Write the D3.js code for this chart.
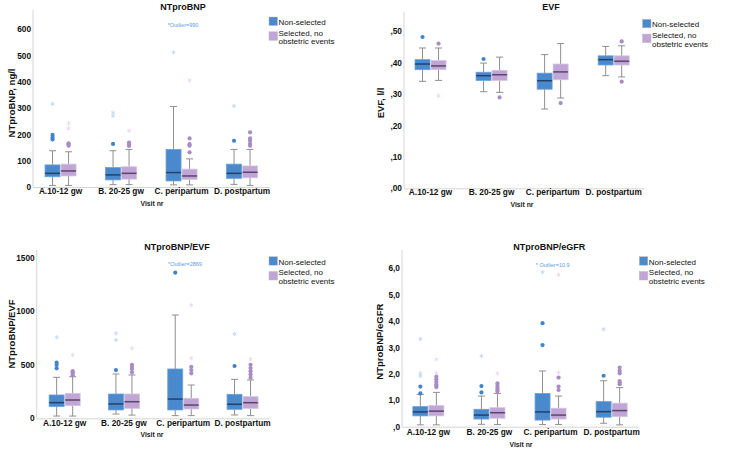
<!DOCTYPE html>
<html><head><meta charset="utf-8">
<script src="https://cdn.jsdelivr.net/npm/d3@7"></script>
<style>
html,body{margin:0;padding:0;background:#fff;}
svg{display:block;font-family:Arial,"Liberation Sans",sans-serif;}
</style></head>
<body>
<svg id="chart" width="732" height="451"></svg>
<script>
// ---------- DATA ----------
const categories = ["A.10-12 gw", "B. 20-25 gw", "C. peripartum", "D. postpartum"];
const seriesNames = ["Non-selected", "Selected, no obstetric events"];
const legendLines = [["Non-selected"], ["Selected, no", "obstetric events"]];
const xTitle = "Visit nr";

// box stats per category: [whiskerLow, q1, median, q3, whiskerHigh]
// NTproBNP
const ntTitle = "NTproBNP", ntYTitle = "NTproBNP, ng/l", ntNote = "*Outlier=990";
const ntTicks = [0, 100, 200, 300, 400, 500, 600];
const ntTickLabels = ["0", "100", "200", "300", "400", "500", "600"];
const ntBoxNon = [[6, 39, 52, 84, 138], [9, 27, 46, 74, 138], [8, 23, 55, 143, 306], [10, 33, 52, 87, 143]];
const ntBoxSel = [[6, 42, 61, 87, 134], [9, 30, 52, 77, 143], [8, 29, 42, 68, 107], [6, 35, 56, 80, 143]];
const ntOutNon = [[181, 188, 198], [164], [], [176]];
const ntOutSel = [[157, 162, 166], [156, 162, 169], [132, 157, 163, 185], [157, 164, 176, 185, 208]];
const ntExtNon = [[316], [270, 283], [512], [308]];
const ntExtSel = [[223, 242], [214], [406], []];

// EVF
const evfTitle = "EVF", evfYTitle = "EVF, l/l", evfNote = "";
const evfTicks = [0, 0.1, 0.2, 0.3, 0.4, 0.5];
const evfTickLabels = [",00", ",10", ",20", ",30", ",40", ",50"];
const evfBoxNon = [[0.340, 0.377, 0.395, 0.409, 0.446], [0.307, 0.343, 0.358, 0.369, 0.398], [0.252, 0.315, 0.342, 0.366, 0.425], [0.358, 0.392, 0.409, 0.421, 0.451]];
const evfBoxSel = [[0.343, 0.377, 0.389, 0.406, 0.446], [0.305, 0.343, 0.361, 0.375, 0.417], [0.287, 0.345, 0.370, 0.395, 0.460], [0.354, 0.392, 0.404, 0.421, 0.453]];
const evfOutNon = [[0.481], [0.411], [], []];
const evfOutSel = [[0.460], [0.289], [0.271], [0.467, 0.339]];
const evfExtNon = [[], [], [], []];
const evfExtSel = [[0.294], [], [], []];

// NTproBNP/EVF
const reTitle = "NTproBNP/EVF", reYTitle = "NTproBNP/EVF", reNote = "*Outlier=2869";
const reTicks = [0, 500, 1000, 1500];
const reTickLabels = ["0", "500", "1000", "1500"];
const reBoxNon = [[21, 109, 146, 218, 383], [40, 78, 134, 227, 414], [25, 78, 180, 461, 965], [31, 84, 131, 224, 364]];
const reBoxSel = [[21, 118, 171, 233, 389], [30, 93, 155, 227, 405], [25, 87, 124, 187, 311], [25, 93, 146, 202, 358]];
const reOutNon = [[467, 498, 520], [451], [1361], [489]];
const reOutSel = [[400, 415, 430, 442], [430, 460, 480, 500], [420, 451, 482], [380, 410, 440, 470, 500]];
const reExtNon = [[757], [732, 794], [], [788]];
const reExtSel = [[592], [654], [561, 1059], [551]];

// NTproBNP/eGFR
const rgTitle = "NTproBNP/eGFR", rgYTitle = "NTproBNP/eGFR", rgNote = "* Outlier=10.9";
const rgTicks = [0, 1, 2, 3, 4, 5, 6];
const rgTickLabels = [",0", "1,0", "2,0", "3,0", "4,0", "5,0", "6,0"];
const rgBoxNon = [[0.07, 0.41, 0.56, 0.76, 1.22], [0.09, 0.29, 0.44, 0.66, 1.16], [0.08, 0.25, 0.56, 1.26, 2.11], [0.13, 0.36, 0.57, 0.95, 1.74]];
const rgBoxSel = [[0.07, 0.41, 0.59, 0.80, 1.30], [0.08, 0.32, 0.53, 0.72, 1.26], [0.08, 0.29, 0.44, 0.70, 1.16], [0.07, 0.38, 0.61, 0.89, 1.48]];
const rgOutNon = [[1.26, 1.52], [1.30, 1.54], [3.09, 3.92], [1.93]];
const rgOutSel = [[1.5, 1.55, 1.6, 1.7, 1.8, 1.9], [1.33, 1.4, 1.47, 1.55, 1.64], [1.39, 1.52, 1.86], [1.61, 1.67, 1.73, 2.02, 2.12, 2.24]];
const rgExtNon = [[1.92, 2.02, 3.32], [2.68], [5.85], [3.69]];
const rgExtSel = [[2.03, 2.55], [2.02], [2.05, 5.75], []];

// ---------- STYLE / LAYOUT ----------
const colors = {
  fill: ["#4a89cc", "#c0a5d6"],
  stroke: ["#6b9fd8", "#d2c6dc"],
  median: ["#22426b", "#5a466b"],
  out: ["#4284cb", "#a98bc5"],
  ext: ["#bcd6f3", "#ead3ed"],
  note: "#5b9be0"
};

const panels = [
  {title: ntTitle, yTitle: ntYTitle, note: ntNote, ticks: ntTicks, labels: ntTickLabels,
   box: [ntBoxNon, ntBoxSel], out: [ntOutNon, ntOutSel], ext: [ntExtNon, ntExtSel],
   L: {bx0: 30.3, bx1: 272.3, ax: 33, xEnd: 270, y0: 187, yLast: 29.3, yTop: 10,
       titleX: 183, titleY: 10, catY: 195.5, visitX: 152, visitY: 205.5,
       yTitleX: 15, yTitleY: 103, legX: 269, legY: 17, noteX: 183, noteY: 27}},
  {title: evfTitle, yTitle: evfYTitle, note: evfNote, ticks: evfTicks, labels: evfTickLabels,
   box: [evfBoxNon, evfBoxSel], out: [evfOutNon, evfOutSel], ext: [evfExtNon, evfExtSel],
   L: {bx0: 400, bx1: 644.2, ax: 404, xEnd: 645, y0: 188.3, yLast: 31, yTop: 11.7,
       titleX: 551, titleY: 10, catY: 195.8, visitX: 522, visitY: 206.5,
       yTitleX: 384, yTitleY: 103, legX: 642.5, legY: 19.3, noteX: 0, noteY: 0}},
  {title: reTitle, yTitle: reYTitle, note: reNote, ticks: reTicks, labels: reTickLabels,
   box: [reBoxNon, reBoxSel], out: [reOutNon, reOutSel], ext: [reExtNon, reExtSel],
   L: {bx0: 35, bx1: 272.2, ax: 36.7, xEnd: 270, y0: 418.3, yLast: 257.8, yTop: 250,
       titleX: 177, titleY: 249.7, catY: 427, visitX: 152, visitY: 437.3,
       yTitleX: 15, yTitleY: 334, legX: 269, legY: 256.7, noteX: 185, noteY: 266}},
  {title: rgTitle, yTitle: rgYTitle, note: rgNote, ticks: rgTicks, labels: rgTickLabels,
   box: [rgBoxNon, rgBoxSel], out: [rgOutNon, rgOutSel], ext: [rgExtNon, rgExtSel],
   L: {bx0: 397.8, bx1: 642.2, ax: 402, xEnd: 639, y0: 426.7, yLast: 268.3, yTop: 250,
       titleX: 549.3, titleY: 249.7, catY: 436, visitX: 521, visitY: 446.5,
       yTitleX: 383, yTitleY: 341.7, legX: 639.3, legY: 256.7, noteX: 552.7, noteY: 266.5}}
];

const svg = d3.select("#chart");
const star = d3.symbol().type(d3.symbolAsterisk).size(13);

panels.forEach(p => {
  const L = p.L;
  const g = svg.append("g");
  const x = d3.scaleBand().domain(categories).range([L.bx0, L.bx1]);
  const xs = d3.scaleBand().domain(seriesNames).range([-15.5, 15.5]).paddingInner(0.065);
  const y = d3.scaleLinear().domain([0, p.ticks[p.ticks.length - 1]]).range([L.y0, L.yLast]);

  // axis lines
  g.append("line").attr("x1", L.ax).attr("x2", L.ax).attr("y1", L.yTop).attr("y2", L.y0)
    .attr("stroke", "#d6d6d6").attr("stroke-width", 1);
  g.append("line").attr("x1", L.ax).attr("x2", L.xEnd).attr("y1", L.y0 + 0.5).attr("y2", L.y0 + 0.5)
    .attr("stroke", "#d6d6d6").attr("stroke-width", 1);

  // y axis ticks (labels only)
  const ya = g.append("g").attr("transform", `translate(${L.ax - 1},0)`)
    .call(d3.axisLeft(y).tickValues(p.ticks).tickFormat((d, i) => p.labels[i]).tickSize(0).tickPadding(1));
  ya.select(".domain").remove();
  ya.selectAll("text").attr("font-size", 8.3).attr("font-weight", "bold").attr("fill", "#111")
    .attr("font-family", "Arial, 'Liberation Sans', sans-serif");

  // x axis labels
  const xa = g.append("g").attr("transform", `translate(0,${L.catY - 7})`)
    .call(d3.axisBottom(x).tickSize(0).tickPadding(0));
  xa.select(".domain").remove();
  xa.selectAll("text").attr("font-size", 8.3).attr("font-weight", "bold").attr("fill", "#111")
    .attr("font-family", "Arial, 'Liberation Sans', sans-serif");

  // titles
  g.append("text").attr("x", L.titleX).attr("y", L.titleY).attr("text-anchor", "middle")
    .attr("font-size", 9).attr("font-weight", "bold").attr("fill", "#111").text(p.title);
  g.append("text").attr("x", L.visitX).attr("y", L.visitY).attr("text-anchor", "middle")
    .attr("font-size", 6.8).attr("font-weight", "bold").attr("fill", "#222").text(xTitle);
  g.append("text").attr("transform", `translate(${L.yTitleX},${L.yTitleY}) rotate(-90)`)
    .attr("text-anchor", "middle").attr("font-size", 9.5).attr("font-weight", "bold").attr("fill", "#111")
    .text(p.yTitle);
  if (p.note) {
    g.append("text").attr("x", L.noteX).attr("y", L.noteY).attr("text-anchor", "middle")
      .attr("font-size", 5.5).attr("fill", colors.note).text(p.note);
  }

  // boxes
  seriesNames.forEach((s, si) => {
    categories.forEach((c, ci) => {
      const [lo, q1, med, q3, hi] = p.box[si][ci];
      const bx = x(c) + x.bandwidth() / 2 + xs(s);
      const bw = xs.bandwidth();
      const cx = bx + bw / 2;
      const cap = 3.5;
      const wg = g.append("g");
      wg.append("line").attr("x1", cx).attr("x2", cx).attr("y1", y(hi)).attr("y2", y(q3))
        .attr("stroke", "#8f8f8f").attr("stroke-width", 1);
      wg.append("line").attr("x1", cx).attr("x2", cx).attr("y1", y(q1)).attr("y2", y(lo))
        .attr("stroke", "#8f8f8f").attr("stroke-width", 1);
      wg.append("line").attr("x1", cx - cap).attr("x2", cx + cap).attr("y1", y(hi)).attr("y2", y(hi))
        .attr("stroke", "#8f8f8f").attr("stroke-width", 1);
      wg.append("line").attr("x1", cx - cap).attr("x2", cx + cap).attr("y1", y(lo)).attr("y2", y(lo))
        .attr("stroke", "#8f8f8f").attr("stroke-width", 1);
      wg.append("rect").attr("x", bx).attr("width", bw).attr("y", y(q3)).attr("height", y(q1) - y(q3))
        .attr("fill", colors.fill[si]).attr("stroke", colors.stroke[si]).attr("stroke-width", 0.8);
      wg.append("line").attr("x1", bx).attr("x2", bx + bw).attr("y1", y(med)).attr("y2", y(med))
        .attr("stroke", colors.median[si]).attr("stroke-width", 1.5);
      p.out[si][ci].forEach(v => {
        wg.append("circle").attr("cx", cx).attr("cy", y(v)).attr("r", 2.1).attr("fill", colors.out[si]);
      });
      p.ext[si][ci].forEach(v => {
        wg.append("path").attr("d", star).attr("transform", `translate(${cx},${y(v)})`)
          .attr("fill", "none").attr("stroke", colors.ext[si]).attr("stroke-width", 0.8);
      });
    });
  });

  // legend
  const lg = g.append("g").attr("transform", `translate(${L.legX},${L.legY})`);
  const rows = [0, 14.8];
  const lineY = [[8], [18.6, 27.4]];
  legendLines.forEach((lines, i) => {
    lg.append("rect").attr("x", 0).attr("y", rows[i]).attr("width", 8.5).attr("height", 8.5)
      .attr("fill", colors.fill[i]).attr("stroke", "#bbb").attr("stroke-width", 0.5);
    lines.forEach((t, j) => {
      lg.append("text").attr("x", 9.5).attr("y", lineY[i][j]).attr("font-size", 8)
        .attr("fill", "#111").text(t);
    });
  });
});
</script>
</body></html>
